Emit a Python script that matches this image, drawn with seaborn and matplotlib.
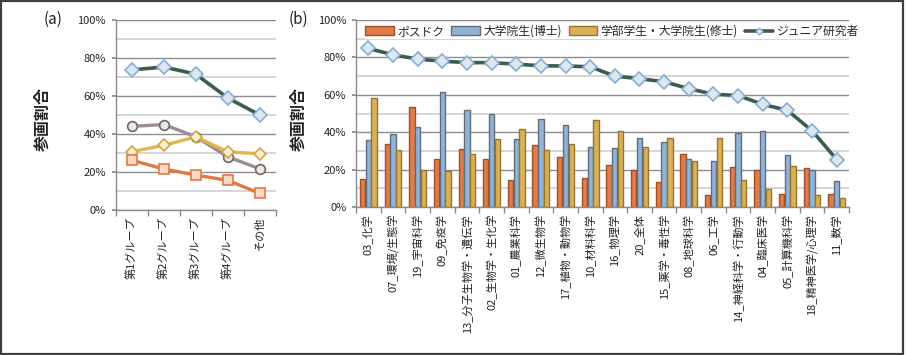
import numpy as np
import pandas as pd
import matplotlib
matplotlib.use("Agg")
import matplotlib.pyplot as plt
import seaborn as sns
from matplotlib.patches import Patch, Rectangle
from matplotlib.lines import Line2D
from matplotlib.ticker import FixedLocator, FuncFormatter

# ---------------- data ----------------
groups_a = ["第1グループ", "第2グループ", "第3グループ", "第4グループ", "その他"]
a_junior = [73.7, 75.3, 71.5, 59.0, 50.0]
a_overall = [44.0, 45.0, 38.6, 28.0, 21.7]
a_master = [30.7, 34.0, 38.5, 30.6, 29.6]
a_postdoc = [26.2, 21.6, 18.4, 15.6, 8.8]

fields = ["03_化学", "07_環境/生態学", "19_宇宙科学", "09_免疫学", "13_分子生物学・遺伝学",
          "02_生物学・生化学", "01_農業科学", "12_微生物学", "17_植物・動物学", "10_材料科学",
          "16_物理学", "20_全体", "15_薬学・毒性学", "08_地球科学", "06_工学",
          "14_神経科学・行動学", "04_臨床医学", "05_計算機科学", "18_精神医学/心理学", "11_数学"]
postdoc = [15.2, 33.6, 53.3, 25.9, 31.2, 25.5, 14.6, 33.0, 26.6, 15.5,
           22.7, 19.6, 13.4, 28.4, 6.3, 21.4, 19.6, 7.0, 20.7, 7.0]
phd = [35.8, 38.8, 42.8, 61.6, 52.1, 49.6, 36.3, 47.3, 44.1, 32.2,
       31.8, 37.0, 34.9, 25.5, 24.8, 39.5, 40.4, 27.8, 19.6, 13.9]
master = [58.4, 30.6, 19.6, 19.0, 28.3, 36.4, 41.6, 30.7, 33.5, 46.3,
          40.9, 32.2, 37.0, 24.5, 37.0, 14.6, 9.5, 22.0, 6.3, 4.7]
junior = [84.8, 81.4, 79.1, 78.0, 77.2, 77.2, 76.4, 75.5, 75.4, 75.0,
          70.0, 68.6, 67.0, 63.3, 60.3, 59.6, 54.9, 51.7, 40.8, 25.4]

series_names = ["ポスドク", "大学院生(博士)", "学部学生・大学院生(修士)", "ジュニア研究者"]
yticks = [0, 20, 40, 60, 80, 100]

# ---------------- style ----------------
sns.set_theme(style="white")
plt.rcParams["font.family"] = ["Noto Sans CJK JP", "DejaVu Sans"]

c_or, e_or = "#E07D4A", "#A34F22"
c_bl, e_bl = "#92B3D3", "#5E6E80"
c_go, e_go = "#D8B15A", "#97752A"
c_gr = "#3D5C4F"

fig = plt.figure(figsize=(9.06, 3.55), dpi=100)
axa = fig.add_axes([115.7 / 906, 1 - 210 / 355, 160 / 906, 190 / 355])
axb = fig.add_axes([356 / 906, 1 - 207 / 355, 493 / 906, 187 / 355])


def style_axis(ax, n):
    ax.set_ylim(0, 100)
    ax.yaxis.set_major_locator(FixedLocator(yticks))
    ax.yaxis.set_minor_locator(FixedLocator([10, 30, 50, 70, 90]))
    ax.yaxis.set_major_formatter(FuncFormatter(lambda v, p: f"{v:.0f}%"))
    ax.grid(False)
    ax.yaxis.grid(True, which="major", color="#8E8E8E", lw=1.0, zorder=0)
    ax.yaxis.grid(True, which="minor", color="#CFCFCF", lw=1.2, zorder=0)
    ax.set_axisbelow(True)
    for s in ["top", "right"]:
        ax.spines[s].set_visible(False)
    for s in ["left", "bottom"]:
        ax.spines[s].set_color("#8A8A8A")
        ax.spines[s].set_linewidth(1.0)
    ax.tick_params(axis="y", which="major", length=3, color="#8A8A8A", pad=4,
                   labelsize=8, labelcolor="#222222", left=True)
    ax.tick_params(axis="y", which="minor", length=0)
    ax.set_xlim(-0.5, n - 0.5)
    ax.xaxis.set_minor_locator(FixedLocator(np.arange(-0.5, n, 1.0)))
    ax.tick_params(axis="x", which="minor", length=4, color="#8A8A8A", bottom=True)
    ax.tick_params(axis="x", which="major", length=0, pad=5, labelsize=8,
                   labelcolor="#222222")
    for lab in ax.get_xticklabels():
        lab.set_rotation(90)
        lab.set_ha("center")
        lab.set_va("top")
    ax.set_xlabel("")


# ---------------- panel (a) ----------------
da = pd.DataFrame({"group": groups_a})
pt_kw = dict(errorbar=None, ax=axa)
sns.pointplot(x=groups_a, y=a_junior, color=c_gr, markers="D", linewidth=2.6,
              markersize=7, markerfacecolor="#DDE8EC", markeredgecolor="#86AED6",
              markeredgewidth=1.2, **pt_kw)
sns.pointplot(x=groups_a, y=a_overall, color="#9C8E8E", markers="o", linewidth=2.4,
              markersize=7, markerfacecolor="#EAE8E2", markeredgecolor="#6E6666",
              markeredgewidth=1.2, **pt_kw)
sns.pointplot(x=groups_a, y=a_master, color="#E2B54E", markers="D", linewidth=2.4,
              markersize=6, markerfacecolor="#FAF0D2", markeredgecolor="#CFA645",
              markeredgewidth=1.2, **pt_kw)
sns.pointplot(x=groups_a, y=a_postdoc, color="#E07A45", markers="s", linewidth=2.4,
              markersize=6.5, markerfacecolor="#F8D9C8", markeredgecolor="#E07A45",
              markeredgewidth=1.2, **pt_kw)
style_axis(axa, len(groups_a))
axa.set_ylabel("参画割合", fontsize=11.5, fontweight="bold", color="#222222")
axa.yaxis.set_label_coords(-0.41, 0.48)

# ---------------- panel (b) ----------------
long = pd.DataFrame({
    "field": fields * 3,
    "series": [series_names[0]] * len(fields) + [series_names[1]] * len(fields)
              + [series_names[2]] * len(fields),
    "value": postdoc + phd + master,
})
sns.barplot(data=long, x="field", y="value", hue="series", order=fields,
            hue_order=series_names[:3],
            palette=[c_or, c_bl, c_go], width=0.7, gap=0.08, errorbar=None,
            legend=False, ax=axb, saturation=1, linewidth=1.0, zorder=2)
# edge colours per series
for cont, ec in zip(axb.containers, [e_or, e_bl, e_go]):
    for bar in cont:
        bar.set_edgecolor(ec)
sns.pointplot(x=fields, y=junior, color=c_gr, markers="D", linewidth=2.6,
              markersize=7, markerfacecolor="#DDE8EC", markeredgecolor="#86AED6",
              markeredgewidth=1.2, errorbar=None, ax=axb)
for ln in axb.lines:
    ln.set_zorder(5)
style_axis(axb, len(fields))
axb.set_ylabel("参画割合", fontsize=11.5, fontweight="bold", color="#222222")
axb.yaxis.set_label_coords(-0.101, 0.47)

handles = [
    Patch(facecolor=c_or, edgecolor=e_or, lw=1.0),
    Patch(facecolor=c_bl, edgecolor=e_bl, lw=1.0),
    Patch(facecolor=c_go, edgecolor=e_go, lw=1.0),
    Line2D([0], [0], color=c_gr, lw=2.6, marker="D", markersize=3.5,
           markerfacecolor="#DDE8EC", markeredgecolor="#86AED6"),
]
leg = axb.legend(handles, series_names, loc="center", bbox_to_anchor=(0.52, 0.94),
                 ncol=4, frameon=True, fontsize=8.5, handlelength=2.4,
                 handleheight=0.7, handletextpad=0.3, columnspacing=0.6,
                 borderpad=0.15, borderaxespad=0)
leg.get_frame().set_facecolor("white")
leg.get_frame().set_edgecolor("none")
leg.get_frame().set_alpha(1)

# panel labels
fig.text(53 / 906, 1 - 19 / 355, "(a)", fontsize=11, ha="center", va="center",
         color="#222222")
fig.text(298 / 906, 1 - 19 / 355, "(b)", fontsize=11, ha="center", va="center",
         color="#222222")

# outer frame
fig.patches.append(Rectangle((0.001, 0.002), 0.996, 0.995, transform=fig.transFigure,
                             fill=False, edgecolor="#404040", lw=1.6))

fig.savefig("out.png", dpi=100, facecolor="white")
